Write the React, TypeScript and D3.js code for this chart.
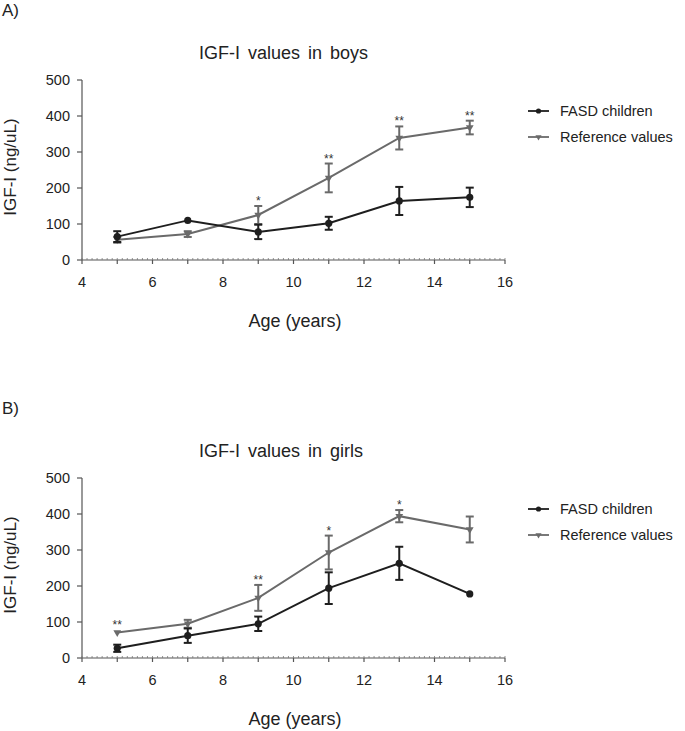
import * as d3 from 'd3';

// ages on the x axis
const AGES = [5, 7, 9, 11, 13, 15];
const X_TICKS = [4, 6, 8, 10, 12, 14, 16];
const Y_TICKS = [0, 100, 200, 300, 400, 500];

// A) boys
const BOYS_FASD = [65, 110, 78, 102, 164, 174];
const BOYS_FASD_ERR = [15, 0, 20, 18, 39, 27];
const BOYS_REF = [56, 72, 125, 228, 339, 368];
const BOYS_REF_ERR = [8, 8, 25, 40, 32, 19];
const BOYS_STARS = ['', '', '*', '**', '**', '**'];

// B) girls
const GIRLS_FASD = [27, 62, 95, 194, 263, 178];
const GIRLS_FASD_ERR = [10, 20, 20, 44, 46, 0];
const GIRLS_REF = [71, 95, 167, 293, 394, 357];
const GIRLS_REF_ERR = [0, 11, 36, 47, 17, 36];
const GIRLS_STARS = ['**', '', '**', '*', '*', ''];

const LEGEND = ['FASD children', 'Reference values'];

const FONT = "'Liberation Sans', Arial, sans-serif";
const DARK = '#1e1e1e';
const GREY = '#6a6a6a';
const TEXT = '#222';

interface PanelProps {
  letter: string;
  title: string;
  top: number; // vertical offset of the panel
  fasd: number[];
  fasdErr: number[];
  ref: number[];
  refErr: number[];
  stars: string[];
}

function Panel({ letter, title, top, fasd, fasdErr, ref, refErr, stars }: PanelProps) {
  const y0 = top + 260;
  const x = d3.scaleLinear().domain([4, 16]).range([82, 505]);
  const y = d3.scaleLinear().domain([0, 500]).range([y0, y0 - 180]);

  const line = d3
    .line<number>()
    .x((_, i) => x(AGES[i]))
    .y((d) => y(d));

  const minor = d3.range(0, 12 * 7 + 1).map((i) => 4 + i / 7);
  const majors = d3.range(4, 17);

  const series = [
    { vals: ref, err: refErr, color: GREY, kind: 'tri' },
    { vals: fasd, err: fasdErr, color: DARK, kind: 'dot' },
  ];

  const tri = d3.symbol().type(d3.symbolTriangle).size(26)();

  return (
    <g>
      <text x={2} y={top + 16} fontSize={17} fill={TEXT}>
        {letter}
      </text>
      <text x={199} y={top + 59} fontSize={18} fill={TEXT} wordSpacing={3}>
        {title}
      </text>

      {/* y axis */}
      <line x1={82} x2={82} y1={y(500)} y2={y0} stroke="#555" strokeWidth={1.2} />
      {Y_TICKS.map((t) => (
        <g key={t}>
          <line x1={77} x2={82} y1={y(t)} y2={y(t)} stroke="#555" strokeWidth={1.2} />
          <text x={70} y={y(t)} dy="0.36em" textAnchor="end" fontSize={14.5} fill={TEXT}>
            {t}
          </text>
        </g>
      ))}
      <text
        transform={`translate(16,${(y(0) + y(500)) / 2 - 3}) rotate(-90)`}
        textAnchor="middle"
        fontSize={17}
        fill={TEXT}
      >
        IGF-I (ng/uL)
      </text>

      {/* x axis */}
      <line x1={x(4)} x2={x(16)} y1={y0} y2={y0} stroke="#555" strokeWidth={1.2} />
      {minor.map((t, i) => (
        <line key={i} x1={x(t)} x2={x(t)} y1={y0 - 2} y2={y0} stroke="#777" strokeWidth={0.8} />
      ))}
      {majors.map((t) => (
        <line key={t} x1={x(t)} x2={x(t)} y1={y0} y2={y0 + 4} stroke="#555" strokeWidth={1.2} />
      ))}
      {X_TICKS.map((t) => (
        <text key={t} x={x(t)} y={y0 + 27} textAnchor="middle" fontSize={14.5} fill={TEXT}>
          {t}
        </text>
      ))}
      <text x={295} y={y0 + 67} textAnchor="middle" fontSize={18} fill={TEXT}>
        Age (years)
      </text>

      {/* series */}
      {series.map((s, si) => (
        <g key={si}>
          <path d={line(s.vals) || ''} fill="none" stroke={s.color} strokeWidth={2} />
          {s.vals.map((v, i) =>
            s.err[i] > 0 ? (
              <g key={i} stroke={s.color} strokeWidth={2}>
                <line x1={x(AGES[i])} x2={x(AGES[i])} y1={y(v - s.err[i])} y2={y(v + s.err[i])} />
                <line x1={x(AGES[i]) - 4} x2={x(AGES[i]) + 4} y1={y(v + s.err[i])} y2={y(v + s.err[i])} />
                <line x1={x(AGES[i]) - 4} x2={x(AGES[i]) + 4} y1={y(v - s.err[i])} y2={y(v - s.err[i])} />
              </g>
            ) : null
          )}
          {s.vals.map((v, i) =>
            s.kind === 'dot' ? (
              <circle key={'m' + i} cx={x(AGES[i])} cy={y(v)} r={3.6} fill={s.color} />
            ) : (
              <path
                key={'m' + i}
                d={tri || ''}
                transform={`translate(${x(AGES[i])},${y(v)}) rotate(180)`}
                fill={s.color}
              />
            )
          )}
        </g>
      ))}

      {/* significance stars */}
      {stars.map((s, i) =>
        s ? (
          <text
            key={i}
            x={x(AGES[i])}
            y={y(ref[i] + refErr[i]) - (refErr[i] > 0 ? 1 : 3)}
            textAnchor="middle"
            fontSize={12}
            fill="#333"
          >
            {s}
          </text>
        ) : null
      )}

      {/* legend */}
      {LEGEND.map((name, i) => {
        const ly = top + 111 + i * 26;
        const c = i === 0 ? DARK : GREY;
        return (
          <g key={name}>
            <line x1={528} x2={549} y1={ly} y2={ly} stroke={c} strokeWidth={1.8} />
            {i === 0 ? (
              <circle cx={538.5} cy={ly} r={2.6} fill={c} />
            ) : (
              <path d={d3.symbol().type(d3.symbolTriangle).size(16)() || ''} transform={`translate(538.5,${ly}) rotate(180)`} fill={c} />
            )}
            <text x={560} y={ly} dy="0.36em" fontSize={14.5} fill={TEXT}>
              {name}
            </text>
          </g>
        );
      })}
    </g>
  );
}

export default function App() {
  return (
    <div style={{ position: 'absolute', left: 0, top: 0 }}>
      <svg width={685} height={731} style={{ display: 'block', background: '#fff', fontFamily: FONT }}>
        <Panel
          letter="A)"
          title="IGF-I values in boys"
          top={0}
          fasd={BOYS_FASD}
          fasdErr={BOYS_FASD_ERR}
          ref={BOYS_REF}
          refErr={BOYS_REF_ERR}
          stars={BOYS_STARS}
        />
        <Panel
          letter="B)"
          title="IGF-I values in girls"
          top={398}
          fasd={GIRLS_FASD}
          fasdErr={GIRLS_FASD_ERR}
          ref={GIRLS_REF}
          refErr={GIRLS_REF_ERR}
          stars={GIRLS_STARS}
        />
      </svg>
    </div>
  );
}
